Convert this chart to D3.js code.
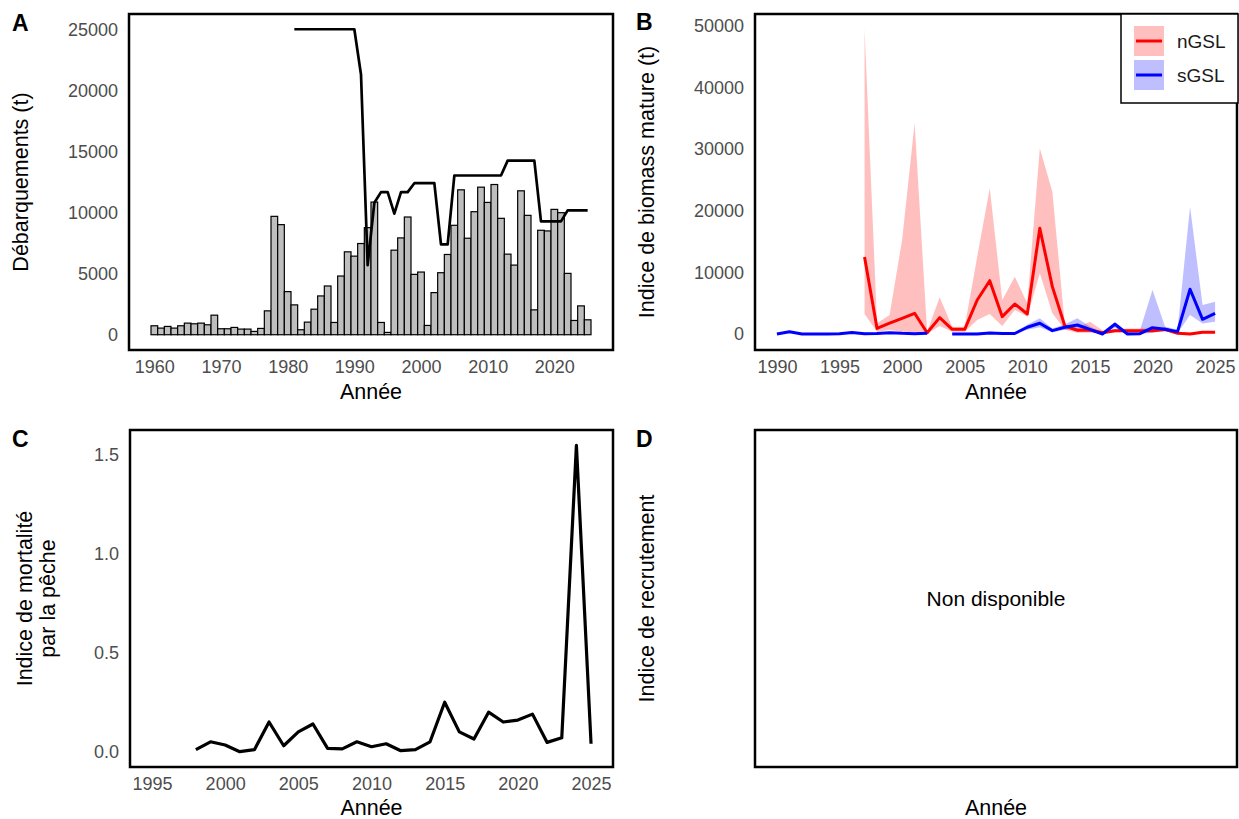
<!DOCTYPE html>
<html>
<head>
<meta charset="utf-8">
<script src="https://cdn.jsdelivr.net/npm/d3@7"></script>
<style>
  body { margin: 0; background: #fff; }
  svg { font-family: "Liberation Sans", Arial, sans-serif; }
</style>
</head>
<body>
<script>
// ---- data ----

// A: landings (bars) and TAC (line)
const landYears = d3.range(1960, 2026);
const landings = [
  733, 543, 679, 543, 733, 950, 896, 950, 814, 1601,
  489, 489, 597, 461, 461, 271, 516, 1954, 9689, 9010,
  3528, 2443, 407, 1031, 2090, 3175, 3990, 1004, 4804, 6785,
  6432, 7464, 8766, 10856, 1004, 190, 6921, 7925, 9635, 4940,
  5130, 760, 3447, 5075, 6568, 8956, 11860, 7898, 10069, 12077,
  10829, 12294, 9526, 6595, 5699, 11779, 9770, 2036, 8549, 8495,
  10259, 9988, 5021, 1167, 2361, 1221
];
const tacYears = d3.range(1981, 2026);
const tac = [
  25000, 25000, 25000, 25000, 25000, 25000, 25000, 25000, 25000, 25000,
  21300, 5700, 10800, 11670, 11670, 9910, 11670, 11670, 12400, 12400,
  12400, 12400, 7390, 7390, 13030, 13030, 13030, 13030, 13030, 13030,
  13030, 13030, 14250, 14250, 14250, 14250, 14250, 9280, 9280, 9280,
  9280, 10180, 10180, 10180, 10180
];
const landTicksX = [1960, 1970, 1980, 1990, 2000, 2010, 2020];
const landTicksY = [0, 5000, 10000, 15000, 20000, 25000];

// B: mature biomass index, nGSL and sGSL
const nYears = d3.range(1997, 2026);
const nGSL = [
  12500, 900, 1750, 2550, 3360, 200, 2650, 760, 760, 5520,
  8650, 2810, 4870, 3250, 17150, 7680, 1300, 600, 650, 210,
  540, 540, 540, 540, 760, 110, 0, 270, 270
];
const nGSLhi = [
  49500, 1740, 3080, 15250, 34200, 370, 5960, 1190, 1190, 12550,
  23650, 5520, 9300, 4980, 30140, 23100, 1460, 1000, 2000, 600,
  800, 900, 900, 900, 1100, 400, 200, 500, 500
];
const nGSLlo = [
  3250, 370, 650, 380, 200, 0, 1300, 370, 370, 2270,
  3250, 1300, 3900, 2800, 9850, 3360, 700, 200, 200, 50,
  300, 300, 300, 300, 450, 0, 0, 100, 100
];
const sYears = d3.range(1990, 2026);
const sGSL = [
  0, 350, 0, 0, 0, 50, 250, 30, 80, 200,
  100, 50, 100, null, 0, 0, 0, 150, 80, 80,
  1090, 1740, 540, 1090, 1460, 760, 0, 1570, 0, 50,
  1030, 760, 380, 7260, 2380, 3350
];
const sGSLhi = [
  150, 500, 150, 150, 150, 200, 400, 180, 230, 350,
  250, 200, 250, null, 200, 200, 200, 350, 280, 280,
  1500, 2550, 900, 1600, 2550, 1200, 300, 2000, 300, 600,
  7150, 1200, 700, 20660, 4700, 5250
];
const sGSLlo = [
  0, 200, 0, 0, 0, 0, 100, 0, 0, 50,
  0, 0, 0, null, 0, 0, 0, 0, 0, 0,
  700, 1100, 300, 700, 800, 400, 0, 1000, 0, 0,
  200, 400, 100, 3100, 1700, 2000
];
const bioTicksX = [1990, 1995, 2000, 2005, 2010, 2015, 2020, 2025];
const bioTicksY = [0, 10000, 20000, 30000, 40000, 50000];

// C: fishing mortality index
const fYears = d3.range(1998, 2026);
const fIndex = [
  0.01, 0.05, 0.034, 0.00, 0.01, 0.15, 0.03, 0.10, 0.14, 0.017,
  0.014, 0.05, 0.025, 0.04, 0.005, 0.01, 0.05, 0.25, 0.10, 0.064,
  0.20, 0.15, 0.16, 0.19, 0.047, 0.07, 1.55, 0.04
];
const fTicksX = [1995, 2000, 2005, 2010, 2015, 2020, 2025];
const fTicksY = [0, 0.5, 1.0, 1.5];

// ---- base ----

const width = 1239;
const height = 819;

const svg = d3
  .select("body")
  .append("svg")
  .attr("width", width)
  .attr("height", height);

const tickColor = "#4d4d4d";
const tickSize = "18px";
const titleSize = "21.5px";

// panel boxes [left, top, right, bottom]
const boxA = [129, 14, 613, 350];
const boxB = [755, 14, 1237, 350];
const boxC = [130, 430, 613, 767];
const boxD = [755, 430, 1237, 767];

function frame(box) {
  svg
    .append("rect")
    .attr("x", box[0])
    .attr("y", box[1])
    .attr("width", box[2] - box[0])
    .attr("height", box[3] - box[1])
    .attr("fill", "none")
    .attr("stroke", "black")
    .attr("stroke-width", 2.5);
}

function axes(box, x, y, ticksX, ticksY, fmtY) {
  const gx = svg
    .append("g")
    .attr("transform", `translate(0, ${box[3]})`)
    .call(d3.axisBottom(x).tickValues(ticksX).tickSize(0).tickPadding(10).tickFormat(d3.format("d")));
  const gy = svg
    .append("g")
    .attr("transform", `translate(${box[0]}, 0)`)
    .call(d3.axisLeft(y).tickValues(ticksY).tickSize(0).tickPadding(11).tickFormat(fmtY));
  [gx, gy].forEach((g) => {
    g.select(".domain").remove();
    g.selectAll("text")
      .style("font-size", tickSize)
      .style("font-family", '"Liberation Sans", Arial, sans-serif')
      .attr("fill", tickColor);
  });
}

function xTitle(box, yPos) {
  svg
    .append("text")
    .attr("x", (box[0] + box[2]) / 2)
    .attr("y", yPos)
    .attr("text-anchor", "middle")
    .style("font-size", titleSize)
    .text("Année");
}

function yTitle(lines, xPos, box) {
  const t = svg
    .append("text")
    .attr("transform", `translate(${xPos}, ${(box[1] + box[3]) / 2}) rotate(-90)`)
    .attr("text-anchor", "middle")
    .style("font-size", titleSize);
  lines.forEach((l, i) => {
    t.append("tspan")
      .attr("x", 0)
      .attr("dy", i === 0 ? 0 : 23)
      .text(l);
  });
}

function tag(label, xPos, yPos) {
  svg
    .append("text")
    .attr("x", xPos)
    .attr("y", yPos)
    .style("font-size", "23px")
    .style("font-weight", "bold")
    .text(label);
}

// ---- panel A ----

const xA = d3.scaleLinear().domain([1956.2, 2028.8]).range([boxA[0], boxA[2]]);
const yA = d3.scaleLinear().domain([-1250, 26250]).range([boxA[3], boxA[1]]);

svg
  .append("g")
  .selectAll("rect")
  .data(landYears)
  .enter()
  .append("rect")
  .attr("x", (d) => xA(d - 0.5))
  .attr("y", (d, i) => yA(landings[i]))
  .attr("width", xA(1) - xA(0))
  .attr("height", (d, i) => yA(0) - yA(landings[i]))
  .attr("fill", "#bebebe")
  .attr("stroke", "black")
  .attr("stroke-width", 1.2);

svg
  .append("path")
  .datum(tacYears.map((d, i) => [d, tac[i]]))
  .attr("fill", "none")
  .attr("stroke", "black")
  .attr("stroke-width", 2.7)
  .attr("stroke-linejoin", "round")
  .attr("d", d3.line().x((d) => xA(d[0])).y((d) => yA(d[1])));

frame(boxA);
axes(boxA, xA, yA, landTicksX, landTicksY, d3.format("d"));
xTitle(boxA, 399);
yTitle(["Débarquements (t)"], 28, boxA);
tag("A", 12, 31);

// ---- panel B ----

const xB = d3.scaleLinear().domain([1988.25, 2026.75]).range([boxB[0], boxB[2]]);
const yB = d3.scaleLinear().domain([-2600, 51940]).range([boxB[3], boxB[1]]);

const series = [
  { name: "nGSL", years: nYears, v: nGSL, hi: nGSLhi, lo: nGSLlo, color: "#ff0000" },
  { name: "sGSL", years: sYears, v: sGSL, hi: sGSLhi, lo: sGSLlo, color: "#0000ff" },
];

svg
  .append("clipPath")
  .attr("id", "clipB")
  .append("rect")
  .attr("x", boxB[0])
  .attr("y", boxB[1])
  .attr("width", boxB[2] - boxB[0])
  .attr("height", boxB[3] - boxB[1]);

const plotB = svg.append("g").attr("clip-path", "url(#clipB)");

series.forEach((s) => {
  const rows = s.years.map((d, i) => ({ year: d, v: s.v[i], hi: s.hi[i], lo: s.lo[i] }));
  plotB
    .append("path")
    .datum(rows)
    .attr("fill", s.color)
    .attr("fill-opacity", 0.25)
    .attr(
      "d",
      d3
        .area()
        .defined((d) => d.hi !== null)
        .x((d) => xB(d.year))
        .y0((d) => yB(d.lo))
        .y1((d) => yB(d.hi))
    );
});

series.forEach((s) => {
  const rows = s.years.map((d, i) => ({ year: d, v: s.v[i] }));
  plotB
    .append("path")
    .datum(rows)
    .attr("fill", "none")
    .attr("stroke", s.color)
    .attr("stroke-width", 3)
    .attr("stroke-linejoin", "round")
    .attr(
      "d",
      d3
        .line()
        .defined((d) => d.v !== null)
        .x((d) => xB(d.year))
        .y((d) => yB(d.v))
    );
});

frame(boxB);
axes(boxB, xB, yB, bioTicksX, bioTicksY, d3.format("d"));
xTitle(boxB, 399);
yTitle(["Indice de biomass mature (t)"], 654, boxB);
tag("B", 636, 30);

// legend
const legend = svg.append("g").attr("transform", "translate(1121, 14)");
legend
  .append("rect")
  .attr("width", 117)
  .attr("height", 89)
  .attr("fill", "white")
  .attr("stroke", "black")
  .attr("stroke-width", 1.5);

series.forEach((s, i) => {
  const gy = 12 + i * 34;
  legend
    .append("rect")
    .attr("x", 13)
    .attr("y", gy)
    .attr("width", 30)
    .attr("height", 30)
    .attr("fill", s.color)
    .attr("fill-opacity", 0.25);
  legend
    .append("line")
    .attr("x1", 15)
    .attr("x2", 41)
    .attr("y1", gy + 15)
    .attr("y2", gy + 15)
    .attr("stroke", s.color)
    .attr("stroke-width", 3);
  legend
    .append("text")
    .attr("x", 56)
    .attr("y", gy + 15)
    .attr("dy", "0.35em")
    .style("font-size", "19px")
    .attr("fill", "#1a1a1a")
    .text(s.name);
});

// ---- panel C ----

const xC = d3.scaleLinear().domain([1993.5, 2026.5]).range([boxC[0], boxC[2]]);
const yC = d3.scaleLinear().domain([-0.0775, 1.6275]).range([boxC[3], boxC[1]]);

svg
  .append("path")
  .datum(fYears.map((d, i) => [d, fIndex[i]]))
  .attr("fill", "none")
  .attr("stroke", "black")
  .attr("stroke-width", 3.2)
  .attr("stroke-linejoin", "round")
  .attr("d", d3.line().x((d) => xC(d[0])).y((d) => yC(d[1])));

frame(boxC);
axes(boxC, xC, yC, fTicksX, fTicksY, d3.format(".1f"));
xTitle(boxC, 815);
yTitle(["Indice de mortalité", "par la pêche"], 32, boxC);
tag("C", 12, 447);

// ---- panel D ----

frame(boxD);
svg
  .append("text")
  .attr("x", (boxD[0] + boxD[2]) / 2)
  .attr("y", (boxD[1] + boxD[3]) / 2)
  .attr("dy", "0.35em")
  .attr("text-anchor", "middle")
  .style("font-size", "21px")
  .text("Non disponible");
xTitle(boxD, 815);
yTitle(["Indice de recrutement"], 654, boxD);
tag("D", 636, 447);
</script>
</body>
</html>
